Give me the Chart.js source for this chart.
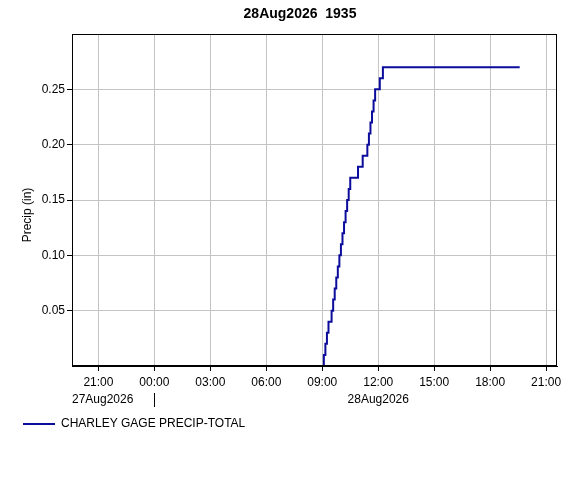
<!DOCTYPE html>
<html>
<head>
<meta charset="utf-8">
<script src="https://cdn.jsdelivr.net/npm/chart.js@4"></script>
<style>
  html, body { margin: 0; padding: 0; background: #fff; }
  #wrap { width: 584px; height: 488px; }
</style>
</head>
<body>
<div id="wrap"><canvas id="precipChart" width="584" height="488"></canvas></div>
<script>
// gage plot: cumulative precip, step line

const chartTitle = '28Aug2026  1935';
const seriesName = 'CHARLEY GAGE PRECIP-TOTAL';
const yAxisTitle = 'Precip (in)';

// readings where the total changes
const obsTimes = [
    '27Aug2026 19:35',
    '28Aug2026 09:05', '28Aug2026 09:10', '28Aug2026 09:15', '28Aug2026 09:20',
    '28Aug2026 09:30', '28Aug2026 09:35', '28Aug2026 09:40', '28Aug2026 09:45',
    '28Aug2026 09:50', '28Aug2026 09:55', '28Aug2026 10:00', '28Aug2026 10:05',
    '28Aug2026 10:10', '28Aug2026 10:15', '28Aug2026 10:20', '28Aug2026 10:25',
    '28Aug2026 10:30', '28Aug2026 10:55', '28Aug2026 11:10', '28Aug2026 11:25',
    '28Aug2026 11:30', '28Aug2026 11:35', '28Aug2026 11:40', '28Aug2026 11:45',
    '28Aug2026 11:50', '28Aug2026 12:05', '28Aug2026 12:15', '28Aug2026 19:35'
];
const obsValues = [
    0.00,
    0.01, 0.02, 0.03, 0.04,
    0.05, 0.06, 0.07, 0.08,
    0.09, 0.10, 0.11, 0.12,
    0.13, 0.14, 0.15, 0.16,
    0.17, 0.18, 0.19, 0.20,
    0.21, 0.22, 0.23, 0.24,
    0.25, 0.26, 0.27, 0.27
];

const xRange = ['27Aug2026 19:35', '28Aug2026 21:35'];
const xTickHours = [-3, 0, 3, 6, 9, 12, 15, 18, 21];
const yRange = [0, 0.30];
const yTickValues = [0.05, 0.10, 0.15, 0.20, 0.25];
const dayLabels = ['27Aug2026', '28Aug2026'];

const FONT = '"Liberation Sans", Arial, sans-serif';
const LINE_COLOR = '#0c0c9c';

// hours relative to 28Aug2026 00:00
function toHours(stamp) {
    const [day, time] = stamp.split(' ');
    const [h, m] = time.split(':').map(Number);
    const offset = day.startsWith('27') ? -24 : 0;
    return offset + h + m / 60;
}

function hourLabel(v) {
    const h = ((Math.round(v) % 24) + 24) % 24;
    return String(h).padStart(2, '0') + ':00';
}

const points = obsTimes.map((t, i) => ({ x: toHours(t), y: obsValues[i] }));

// title, frame, y title and the date row under the hour ticks
const decorPlugin = {
    id: 'decor',
    afterDraw(chart) {
        const { ctx, chartArea } = chart;
        const xs = chart.scales.x;
        ctx.save();

        ctx.strokeStyle = '#000';
        ctx.lineWidth = 1;
        ctx.strokeRect(chartArea.left + 0.5, chartArea.top + 0.5, chartArea.width - 1, chartArea.height - 1);

        ctx.fillStyle = '#000';
        ctx.textBaseline = 'middle';
        ctx.font = 'bold 14px ' + FONT;
        ctx.textAlign = 'center';
        ctx.fillText(chartTitle, 300, 14);

        ctx.font = '12px ' + FONT;
        ctx.save();
        ctx.translate(28, (chartArea.top + chartArea.bottom) / 2 + 15);
        ctx.rotate(-Math.PI / 2);
        ctx.fillText(yAxisTitle, 0, 0);
        ctx.restore();

        const rowY = xs.top + 34;
        ctx.textAlign = 'left';
        ctx.fillText(dayLabels[0], chartArea.left, rowY);
        ctx.textAlign = 'center';
        ctx.fillText(dayLabels[1], xs.getPixelForValue(12), rowY);

        const sep = Math.round(xs.getPixelForValue(0)) + 0.5;
        ctx.beginPath();
        ctx.moveTo(sep, xs.top + 27);
        ctx.lineTo(sep, xs.top + 41);
        ctx.stroke();

        ctx.restore();
    }
};

new Chart(document.getElementById('precipChart'), {
    type: 'line',
    data: {
        datasets: [{
            label: seriesName,
            data: points,
            borderColor: LINE_COLOR,
            backgroundColor: LINE_COLOR,
            borderWidth: 2,
            pointRadius: 0,
            stepped: true,
            fill: false
        }]
    },
    options: {
        responsive: false,
        animation: false,
        layout: {
            padding: { top: 34, left: 13, right: 27, bottom: 48 }
        },
        plugins: {
            title: { display: false },
            tooltip: { enabled: false },
            legend: {
                position: 'bottom',
                align: 'start',
                labels: {
                    usePointStyle: true,
                    pointStyle: 'line',
                    pointStyleWidth: 32,
                    color: '#000',
                    font: { family: FONT, size: 12 }
                }
            }
        },
        scales: {
            x: {
                type: 'linear',
                min: toHours(xRange[0]),
                max: toHours(xRange[1]),
                afterBuildTicks: scale => {
                    scale.ticks = xTickHours.map(v => ({ value: v }));
                },
                afterFit: scale => { scale.height = 42; },
                ticks: {
                    callback: v => hourLabel(v),
                    color: '#000',
                    font: { family: FONT, size: 12 },
                    padding: 4,
                    maxRotation: 0,
                    autoSkip: false
                },
                grid: {
                    color: '#c4c4c4',
                    tickColor: '#000',
                    tickLength: 5
                },
                border: { color: '#000' }
            },
            y: {
                min: yRange[0],
                max: yRange[1],
                afterBuildTicks: scale => {
                    scale.ticks = yTickValues.map(v => ({ value: v }));
                },
                afterFit: scale => { scale.width = 59; },
                ticks: {
                    callback: v => Number(v).toFixed(2),
                    color: '#000',
                    font: { family: FONT, size: 12 },
                    padding: 2
                },
                grid: {
                    color: '#c4c4c4',
                    tickColor: '#000',
                    tickLength: 5
                },
                border: { color: '#000' }
            }
        }
    },
    plugins: [decorPlugin]
});
</script>
</body>
</html>
